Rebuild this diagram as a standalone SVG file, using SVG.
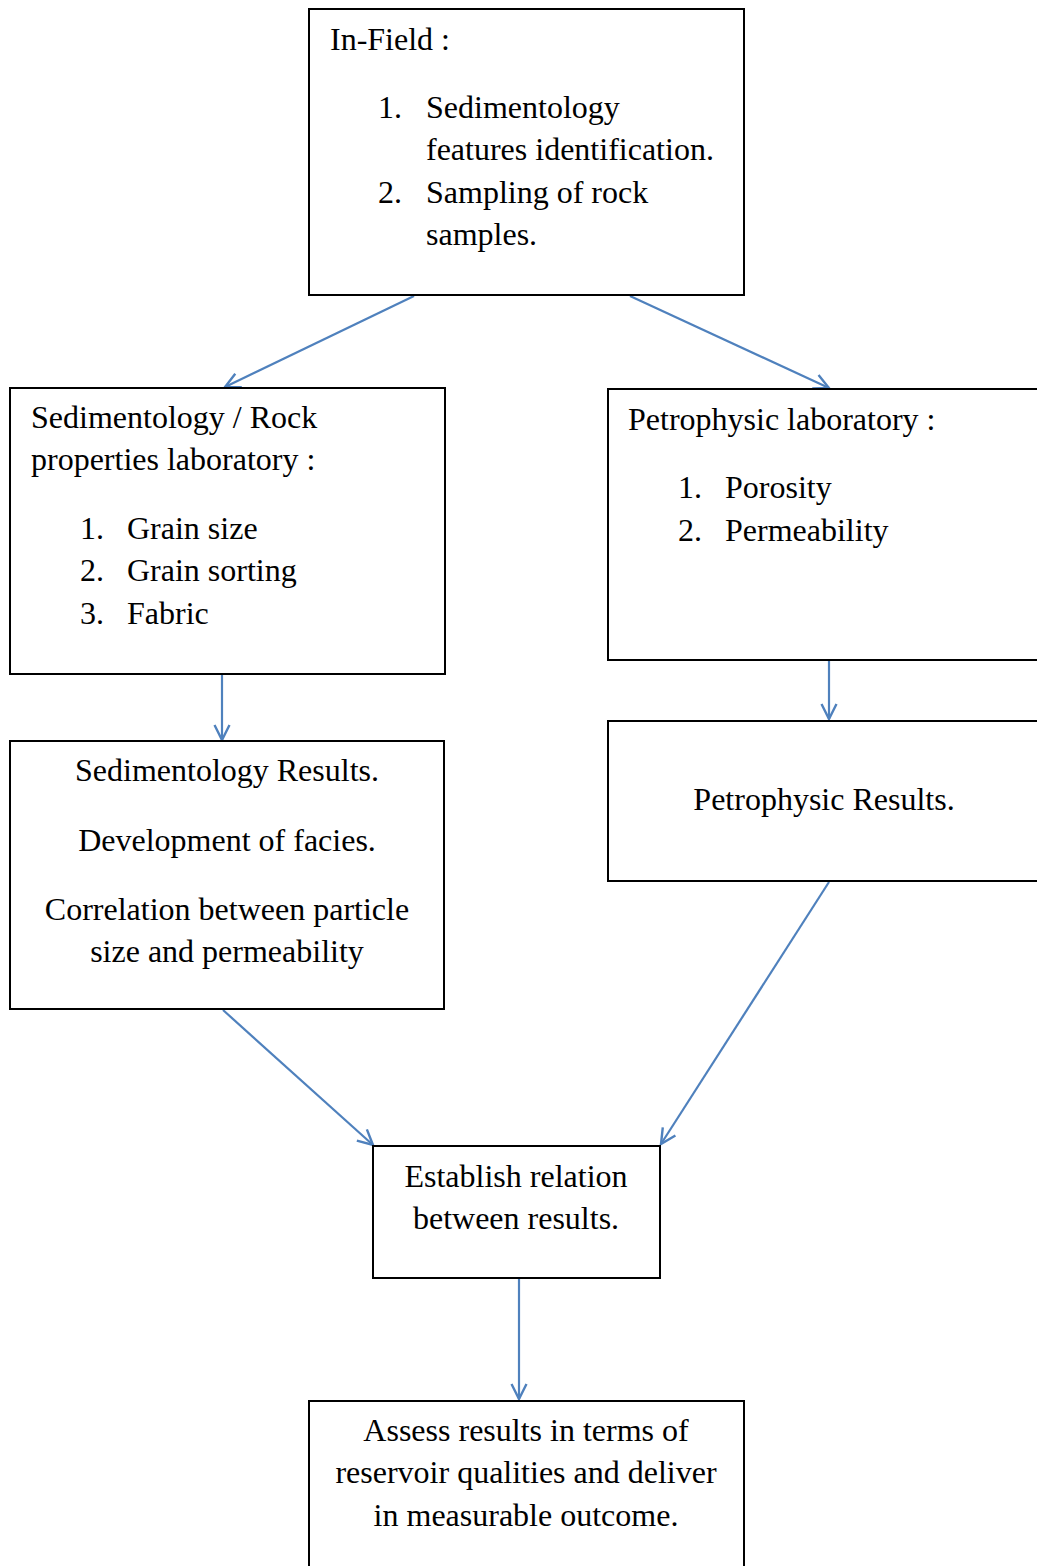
<svg xmlns="http://www.w3.org/2000/svg" width="1037" height="1566" viewBox="0 0 1037 1566">
<defs>
<marker id="arr" viewBox="0 0 20 20" refX="18" refY="10" markerWidth="20" markerHeight="20" markerUnits="userSpaceOnUse" orient="auto">
<path d="M3,2.5 L18,10 L3,17.5" fill="none" stroke="#4F81BD" stroke-width="2.4"/>
</marker>
</defs>
<style>
.box{fill:#fff;stroke:#000;stroke-width:2}
text{font-family:"Liberation Serif","Times New Roman",serif;font-size:32px;fill:#000}
.c{text-anchor:middle}
.ln{stroke:#4F81BD;stroke-width:2.2;fill:none;marker-end:url(#arr)}
</style>
<rect width="1037" height="1566" fill="#fff"/>
<g id="connectors">
<line class="ln" x1="414" y1="296" x2="225" y2="387"/>
<line class="ln" x1="630" y1="296" x2="829" y2="388"/>
<line class="ln" x1="222" y1="674" x2="222" y2="740"/>
<line class="ln" x1="829" y1="655" x2="829" y2="719"/>
<line class="ln" x1="223" y1="1010" x2="373" y2="1145"/>
<line class="ln" x1="829" y1="882" x2="661" y2="1144"/>
<line class="ln" x1="519" y1="1279" x2="519" y2="1399"/>
</g>
<g id="infield">
<rect class="box" x="309" y="9" width="435" height="286"/>
<text x="330" y="50">In-Field :</text>
<text x="378" y="118">1.</text><text x="426" y="118">Sedimentology</text>
<text x="426" y="160">features identification.</text>
<text x="378" y="203">2.</text><text x="426" y="203">Sampling of rock</text>
<text x="426" y="245">samples.</text>
</g>
<g id="sedlab">
<rect class="box" x="10" y="388" width="435" height="286"/>
<text x="31" y="428">Sedimentology / Rock</text>
<text x="31" y="470">properties laboratory :</text>
<text x="80" y="539">1.</text><text x="127" y="539">Grain size</text>
<text x="80" y="581">2.</text><text x="127" y="581">Grain sorting</text>
<text x="80" y="624">3.</text><text x="127" y="624">Fabric</text>
</g>
<g id="petrolab">
<rect class="box" x="608" y="389" width="440" height="271"/>
<text x="628" y="430">Petrophysic laboratory :</text>
<text x="678" y="498">1.</text><text x="725" y="498">Porosity</text>
<text x="678" y="541">2.</text><text x="725" y="541">Permeability</text>
</g>
<g id="sedres">
<rect class="box" x="10" y="741" width="434" height="268"/>
<text class="c" x="227" y="781">Sedimentology Results.</text>
<text class="c" x="227" y="851">Development of facies.</text>
<text class="c" x="227" y="920">Correlation between particle</text>
<text class="c" x="227" y="962">size and permeability</text>
</g>
<g id="petrores">
<rect class="box" x="608" y="721" width="440" height="160"/>
<text class="c" x="824" y="810">Petrophysic Results.</text>
</g>
<g id="relation">
<rect class="box" x="373" y="1146" width="287" height="132"/>
<text class="c" x="516" y="1187">Establish relation</text>
<text class="c" x="516" y="1229">between results.</text>
</g>
<g id="assess">
<rect class="box" x="309" y="1401" width="435" height="180"/>
<text class="c" x="526" y="1441">Assess results in terms of</text>
<text class="c" x="526" y="1483">reservoir qualities and deliver</text>
<text class="c" x="526" y="1526">in measurable outcome.</text>
</g>
</svg>
